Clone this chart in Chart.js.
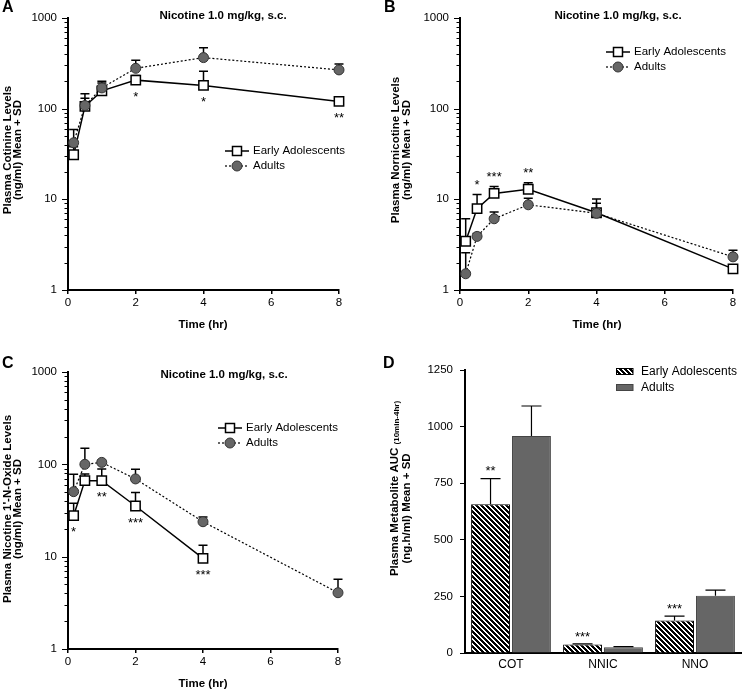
<!DOCTYPE html>
<html>
<head>
<meta charset="utf-8">
<script src="https://cdn.jsdelivr.net/npm/chart.js@4.4.1/dist/chart.umd.min.js"></script>
<style>
  html, body { margin: 0; padding: 0; background: #fff; }
  #wrap { position: relative; width: 742px; height: 692px; }
  #wrap canvas { position: absolute; }
</style>
</head>
<body>
<div id="wrap">
  <canvas id="chartA" width="371" height="346" style="left:0;top:0"></canvas>
  <canvas id="chartB" width="371" height="346" style="left:371px;top:0"></canvas>
  <canvas id="chartC" width="371" height="346" style="left:0;top:346px"></canvas>
  <canvas id="chartD" width="371" height="346" style="left:371px;top:346px"></canvas>
</div>
<script>
// sampling times (hr)
const times = [0.167, 0.5, 1, 2, 4, 8];

// A - plasma cotinine (ng/ml)
const cotEA = [31, 106, 157, 206, 180, 120];
const cotEAsd = [7, 40, 35, 25, 78, 8];
const cotAD = [42, 108, 169, 278, 365, 267];
const cotADsd = [17, 22, 31, 64, 105, 43];
const cotStars = ['', '', '', '*', '*', '**'];

// B - plasma nornicotine (ng/ml)
const nnicEA = [3.45, 7.9, 11.6, 12.9, 7.1, 1.71];
const nnicEAsd = [2.65, 3.4, 2.2, 2.3, 3.0, 0.15];
const nnicAD = [1.51, 3.9, 6.1, 8.7, 7.0, 2.32];
const nnicADsd = [1.07, 0.3, 1.15, 1.6, 2.05, 0.42];
const nnicStars = ['', '*', '***', '**', '', ''];

// C - plasma nicotine 1'-N-oxide (ng/ml), no adolescent sample at 8 hr
const nnoEA = [27.8, 66.6, 66.6, 35.4, 9.6, null];
const nnoEAsd = [10.1, 12, 22.4, 14, 3.7, null];
const nnoAD = [50.6, 100, 105, 69.5, 23.9, 4.07];
const nnoADsd = [27.4, 49, 5, 19, 3.0, 1.63];
const nnoStars = ['*', '', '**', '***', '***', ''];

// D - AUC 10min-4hr (ng.h/ml)
const metabolites = ['COT', 'NNIC', 'NNO'];
const aucEA = [657, 37, 143];
const aucEAsd = [113, 3, 20];
const aucAD = [958, 25, 253];
const aucADsd = [133, 3, 25];
const aucStars = ['**', '***', '***'];

const logTicks = [1, 10, 100, 1000];
const timeTicks = [0, 2, 4, 6, 8];
const aucTicks = [0, 250, 500, 750, 1000, 1250];

const FONT = 'Arial, "Liberation Sans", Helvetica, sans-serif';
Chart.defaults.font.family = FONT;
Chart.defaults.color = '#000';

const W = 371, H = 346;

function drawText(ctx, txt, x, y, size, bold, align, rot) {
  ctx.save();
  ctx.translate(x, y);
  if (rot) ctx.rotate(-Math.PI / 2);
  ctx.font = (bold ? 'bold ' : '') + size + 'px ' + FONT;
  ctx.fillStyle = '#000';
  ctx.textAlign = align || 'center';
  ctx.textBaseline = 'middle';
  ctx.fillText(txt, 0, 0);
  ctx.restore();
}

// crisp "\" stripes
function hatch() {
  const n = 5;
  const c = document.createElement('canvas');
  c.width = n; c.height = n;
  const g = c.getContext('2d');
  const img = g.createImageData(n, n);
  for (let yy = 0; yy < n; yy++) {
    for (let xx = 0; xx < n; xx++) {
      const k = (((xx - yy) % n) + n) % n;
      const v = k < 3 ? 0 : 255;
      const o = (yy * n + xx) * 4;
      img.data[o] = v; img.data[o + 1] = v; img.data[o + 2] = v; img.data[o + 3] = 255;
    }
  }
  g.putImageData(img, 0, 0);
  return g.createPattern(c, 'repeat');
}

function drawSquare(ctx, x, y) {
  ctx.save();
  ctx.fillStyle = '#fff'; ctx.strokeStyle = '#000'; ctx.lineWidth = 1.5;
  ctx.beginPath(); ctx.rect(x - 4.5, y - 4.5, 9, 9); ctx.fill(); ctx.stroke();
  ctx.restore();
}
function drawCircle(ctx, x, y) {
  ctx.save();
  ctx.fillStyle = '#666'; ctx.strokeStyle = '#333'; ctx.lineWidth = 1;
  ctx.beginPath(); ctx.arc(x, y, 5, 0, Math.PI * 2); ctx.fill(); ctx.stroke();
  ctx.restore();
}

function lineChart(id, p) {
  const pts = vals => times.map((t, i) => ({x: t, y: vals[i]})).filter(d => d.y != null);
  const box = p.box;

  const marks = {
    id: 'marks',
    beforeDatasetsDraw(chart) {
      const {ctx, scales: {x, y}} = chart;
      ctx.save();
      ctx.strokeStyle = '#000';
      ctx.lineWidth = 1.5;
      [[p.ea, p.eaSd], [p.ad, p.adSd]].forEach(([v, sd]) => {
        times.forEach((t, i) => {
          if (v[i] == null) return;
          const px = x.getPixelForValue(t);
          const y0 = y.getPixelForValue(v[i]);
          const y1 = y.getPixelForValue(v[i] + sd[i]);
          ctx.beginPath();
          ctx.moveTo(px, y0); ctx.lineTo(px, y1);
          ctx.moveTo(px - 4.5, y1); ctx.lineTo(px + 4.5, y1);
          ctx.stroke();
        });
      });
      ctx.restore();
    },
    afterDatasetsDraw(chart) {
      const {ctx, scales: {x, y}} = chart;
      p.stars.forEach((s, i) => {
        if (!s) return;
        const px = x.getPixelForValue(times[i]);
        let py;
        if (p.starPos === 'below') {
          py = Math.max(y.getPixelForValue(p.ea[i]), y.getPixelForValue(p.ad[i])) + 14;
        } else {
          py = y.getPixelForValue(p.ea[i] + p.eaSd[i]) - 12;
        }
        drawText(ctx, s, px, py + 3, 13, false);
      });
    },
    afterDraw(chart) {
      const {ctx, chartArea, scales: {y}} = chart;
      // log minor / major tick marks
      ctx.save();
      ctx.strokeStyle = '#000';
      ctx.lineWidth = 1;
      [1, 10, 100].forEach(d => {
        for (let k = 1; k <= 10; k++) {
          const py = Math.round(y.getPixelForValue(k * d)) + 0.5;
          const len = (k === 1 || k === 10) ? 5 : 2.5;
          ctx.beginPath();
          ctx.moveTo(chartArea.left - 1, py);
          ctx.lineTo(chartArea.left - 1 - len, py);
          ctx.stroke();
        }
      });
      ctx.restore();

      drawText(ctx, p.letter, p.letterPos[0], p.letterPos[1], 16, true, 'left');
      drawText(ctx, 'Nicotine 1.0 mg/kg, s.c.', p.titlePos[0], p.titlePos[1], 11.5, true);
      drawText(ctx, 'Time (hr)', p.xTitlePos[0], p.xTitlePos[1], 11.5, true);
      drawText(ctx, p.yTitle[0], p.yTitleX[0], p.yTitleY, 11.5, true, 'center', true);
      drawText(ctx, p.yTitle[1], p.yTitleX[1], p.yTitleY, 11.5, true, 'center', true);

      // legend
      const [lx, ly] = p.legendPos;
      ctx.save();
      ctx.strokeStyle = '#000';
      ctx.lineWidth = 1.5;
      ctx.beginPath(); ctx.moveTo(lx - 12, ly); ctx.lineTo(lx + 12, ly); ctx.stroke();
      ctx.lineWidth = 1.2;
      ctx.setLineDash([2, 2]);
      ctx.beginPath(); ctx.moveTo(lx - 12, ly + 15); ctx.lineTo(lx + 12, ly + 15); ctx.stroke();
      ctx.restore();
      drawSquare(ctx, lx, ly);
      drawCircle(ctx, lx, ly + 15);
      drawText(ctx, 'Early Adolescents', lx + 16, ly, 11.5, false, 'left');
      drawText(ctx, 'Adults', lx + 16, ly + 15, 11.5, false, 'left');
    }
  };

  return new Chart(document.getElementById(id), {
    type: 'line',
    data: {
      datasets: [{
        label: 'Early Adolescents',
        data: pts(p.ea),
        order: 1,
        clip: false,
        borderColor: '#000',
        borderWidth: 1.5,
        pointStyle: 'rect',
        pointRadius: 6.6,
        pointBackgroundColor: '#fff',
        pointBorderColor: '#000',
        pointBorderWidth: 1.5
      }, {
        label: 'Adults',
        data: pts(p.ad),
        order: 0,
        clip: false,
        borderColor: '#000',
        borderWidth: 1.2,
        borderDash: [2, 2],
        pointStyle: 'circle',
        pointRadius: 5,
        pointBackgroundColor: '#666',
        pointBorderColor: '#333',
        pointBorderWidth: 1
      }]
    },
    options: {
      responsive: false,
      animation: false,
      events: [],
      layout: { padding: { left: 0, top: box.top, right: W - box.right, bottom: 0 } },
      plugins: { legend: { display: false }, tooltip: { enabled: false } },
      scales: {
        x: {
          type: 'linear', min: 0, max: 8,
          afterFit: s => { s.height = H - box.bottom; },
          afterBuildTicks: s => { s.ticks = timeTicks.map(v => ({value: v})); },
          ticks: { color: '#000', font: { size: 11.5 }, padding: 2, maxRotation: 0 },
          grid: { drawOnChartArea: false, color: '#000', lineWidth: 1.5, tickLength: 4 },
          border: { color: '#000', width: 2 }
        },
        y: {
          type: 'logarithmic', min: 1, max: 1000,
          afterFit: s => { s.width = box.left; },
          afterBuildTicks: s => { s.ticks = logTicks.map(v => ({value: v})); },
          ticks: { color: '#000', font: { size: 11.5 }, padding: 11, callback: v => String(v) },
          grid: { display: false, drawTicks: false },
          border: { color: '#000', width: 2 }
        }
      }
    },
    plugins: [marks]
  });
}

lineChart('chartA', {
  box: { left: 68, right: 339, top: 11, bottom: 290 },
  ea: cotEA, eaSd: cotEAsd, ad: cotAD, adSd: cotADsd,
  stars: cotStars, starPos: 'below',
  letter: 'A', letterPos: [2, 8],
  titlePos: [223, 16], xTitlePos: [203, 325],
  yTitle: ['Plasma Cotinine Levels', '(ng/ml) Mean + SD'], yTitleX: [8, 18], yTitleY: 150,
  legendPos: [237, 151]
});

lineChart('chartB', {
  box: { left: 89, right: 362, top: 11, bottom: 290 },
  ea: nnicEA, eaSd: nnicEAsd, ad: nnicAD, adSd: nnicADsd,
  stars: nnicStars, starPos: 'above',
  letter: 'B', letterPos: [13, 8],
  titlePos: [247, 16], xTitlePos: [226, 325],
  yTitle: ['Plasma Nornicotine Levels', '(ng/ml) Mean + SD'], yTitleX: [25, 35.5], yTitleY: 150,
  legendPos: [247, 52]
});

lineChart('chartC', {
  box: { left: 68, right: 338, top: 26, bottom: 303 },
  ea: nnoEA, eaSd: nnoEAsd, ad: nnoAD, adSd: nnoADsd,
  stars: nnoStars, starPos: 'below',
  letter: 'C', letterPos: [2, 18],
  titlePos: [224, 29], xTitlePos: [203, 338],
  yTitle: ["Plasma Nicotine 1'-N-Oxide Levels", '(ng/ml) Mean + SD'], yTitleX: [8, 18], yTitleY: 163,
  legendPos: [230, 82]
});

// D - bar chart
const stripes = hatch();
const boxD = { left: 94, right: 370, top: 24, bottom: 307 };

const barMarks = {
  id: 'barMarks',
  afterDatasetsDraw(chart) {
    const {ctx, scales: {y}} = chart;
    ctx.save();
    ctx.strokeStyle = '#000';
    ctx.lineWidth = 1.2;
    [aucEAsd, aucADsd].forEach((sd, d) => {
      const vals = d === 0 ? aucEA : aucAD;
      chart.getDatasetMeta(d).data.forEach((bar, i) => {
        const y0 = y.getPixelForValue(vals[i]);
        const y1 = y.getPixelForValue(vals[i] + sd[i]);
        ctx.beginPath();
        ctx.moveTo(bar.x, y0); ctx.lineTo(bar.x, y1);
        ctx.moveTo(bar.x - 10, y1); ctx.lineTo(bar.x + 10, y1);
        ctx.stroke();
      });
    });
    ctx.restore();
    chart.getDatasetMeta(0).data.forEach((bar, i) => {
      const py = y.getPixelForValue(aucEA[i] + aucEAsd[i]) - 10;
      drawText(ctx, aucStars[i], bar.x, py + 3, 13, false);
    });
  },
  afterDraw(chart) {
    const ctx = chart.ctx;
    drawText(ctx, 'D', 12, 18, 16, true, 'left');

    // y title with subscript
    ctx.save();
    ctx.translate(24, 142.5);
    ctx.rotate(-Math.PI / 2);
    ctx.fillStyle = '#000';
    ctx.textBaseline = 'middle';
    ctx.textAlign = 'left';
    const main = 'Plasma Metabolite AUC ';
    const sub = '(10min-4hr)';
    ctx.font = 'bold 11.5px ' + FONT;
    const mw = ctx.measureText(main).width;
    ctx.font = 'bold 8px ' + FONT;
    const sw = ctx.measureText(sub).width;
    const x0 = -(mw + sw) / 2;
    ctx.font = 'bold 11.5px ' + FONT;
    ctx.fillText(main, x0, 0);
    ctx.font = 'bold 8px ' + FONT;
    ctx.fillText(sub, x0 + mw, 2);
    ctx.restore();
    drawText(ctx, '(ng.h/ml) Mean + SD', 35.7, 162.5, 11.5, true, 'center', true);

    // legend
    ctx.save();
    ctx.fillStyle = stripes;
    ctx.fillRect(245, 22.5, 17, 6.5);
    ctx.strokeStyle = '#000';
    ctx.lineWidth = 1;
    ctx.strokeRect(245.5, 22.5, 16.5, 6);
    ctx.fillStyle = '#666';
    ctx.fillRect(245, 38.5, 17, 6);
    ctx.strokeStyle = '#444';
    ctx.strokeRect(245.5, 38.5, 16.5, 6);
    ctx.restore();
    drawText(ctx, 'Early Adolescents', 270, 25.5, 12, false, 'left');
    drawText(ctx, 'Adults', 270, 41.5, 12, false, 'left');
  }
};

new Chart(document.getElementById('chartD'), {
  type: 'bar',
  data: {
    labels: metabolites,
    datasets: [{
      label: 'Early Adolescents',
      data: aucEA,
      backgroundColor: stripes,
      borderColor: '#000',
      borderWidth: 1,
      categoryPercentage: 0.89,
      barPercentage: 0.95
    }, {
      label: 'Adults',
      data: aucAD,
      backgroundColor: '#666',
      borderColor: '#444',
      borderWidth: 1,
      categoryPercentage: 0.89,
      barPercentage: 0.95
    }]
  },
  options: {
    responsive: false,
    animation: false,
    events: [],
    layout: { padding: { left: 0, top: boxD.top, right: W - boxD.right, bottom: 0 } },
    plugins: { legend: { display: false }, tooltip: { enabled: false } },
    scales: {
      x: {
        afterFit: s => { s.height = H - boxD.bottom; },
        ticks: { color: '#000', font: { size: 12 }, padding: 4 },
        grid: { display: false, drawTicks: false },
        border: { color: '#000', width: 2 }
      },
      y: {
        min: 0, max: 1250,
        afterFit: s => { s.width = boxD.left; },
        afterBuildTicks: s => { s.ticks = aucTicks.map(v => ({value: v})); },
        ticks: { color: '#000', font: { size: 11.5 }, padding: 7, callback: v => String(v) },
        grid: { drawOnChartArea: false, color: '#000', lineWidth: 1, tickLength: 5 },
        border: { color: '#000', width: 2 }
      }
    }
  },
  plugins: [barMarks]
});
</script>
</body>
</html>
